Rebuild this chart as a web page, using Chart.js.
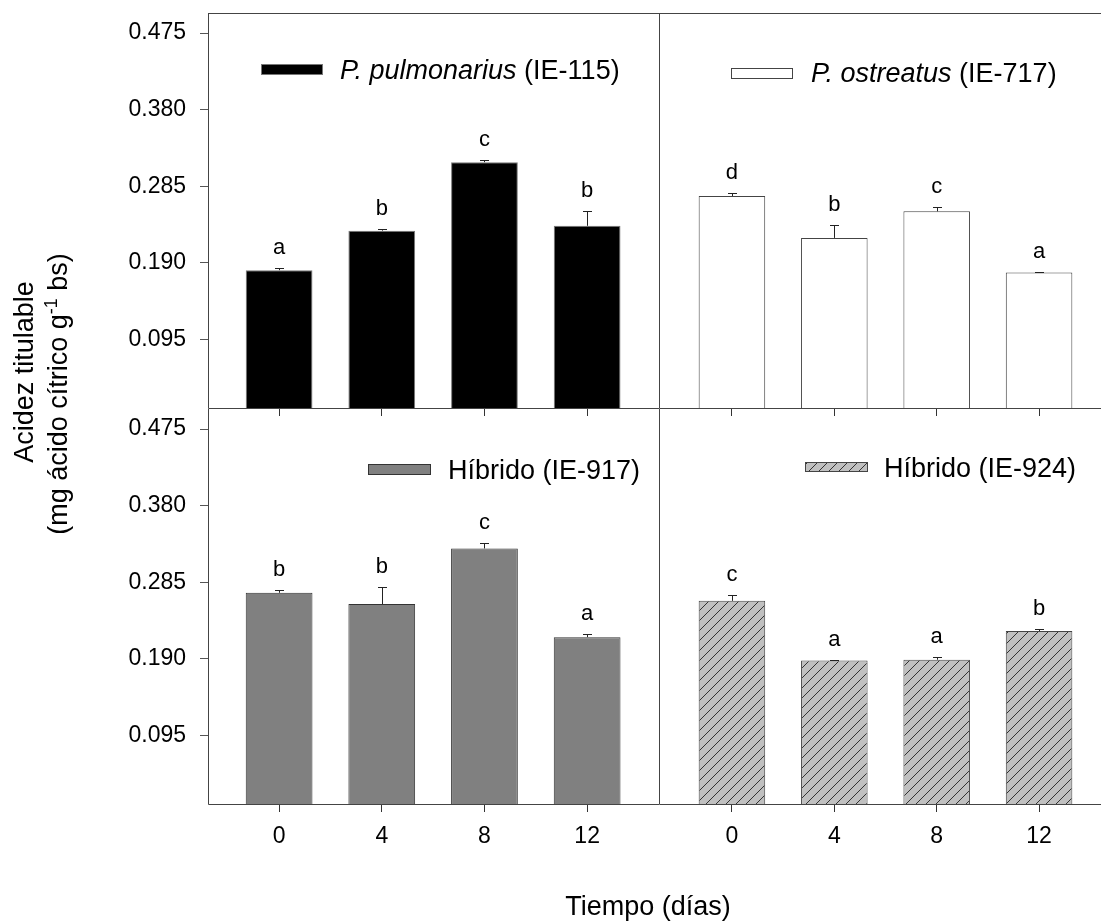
<!DOCTYPE html>
<html lang="es">
<head>
<meta charset="utf-8">
<title>Acidez titulable</title>
<script src="https://cdn.jsdelivr.net/npm/chart.js@4.4.1/dist/chart.umd.min.js"></script>
<style>
  html, body { margin: 0; padding: 0; background: #fff; }
  #figura { position: relative; width: 1101px; height: 924px; }
  #figura canvas { position: absolute; left: 0; top: 0; }
</style>
</head>
<body>
<div id="figura">
  <canvas id="pulmonarius" width="1101" height="924"></canvas>
  <canvas id="ostreatus" width="1101" height="924"></canvas>
  <canvas id="h917" width="1101" height="924"></canvas>
  <canvas id="h924" width="1101" height="924"></canvas>
</div>
<script>
// dias de almacenamiento y marcas del eje y
const dias = [0, 4, 8, 12];
const ticksY = [0.095, 0.190, 0.285, 0.380, 0.475];

// medias, error estandar y letras de Tukey por cepa
const pulmonariusMedia = [0.181, 0.230, 0.315, 0.236];
const pulmonariusError = [0.003, 0.0025, 0.003, 0.018];
const pulmonariusLetras = ['a', 'b', 'c', 'b'];

const ostreatusMedia = [0.273, 0.221, 0.254, 0.178];
const ostreatusError = [0.0033, 0.016, 0.005, 0.0012];
const ostreatusLetras = ['d', 'b', 'c', 'a'];

const h917Media = [0.272, 0.258, 0.327, 0.217];
const h917Error = [0.0033, 0.0216, 0.007, 0.0033];
const h917Letras = ['b', 'b', 'c', 'a'];

const h924Media = [0.262, 0.188, 0.189, 0.2245];
const h924Error = [0.007, 0.0012, 0.0037, 0.003];
const h924Letras = ['c', 'a', 'a', 'b'];

const FUENTE = '"Liberation Sans", Arial, sans-serif';
Chart.defaults.font.family = FUENTE;

// trama diagonal para el hibrido IE-924
function trama() {
    const c = document.createElement('canvas');
    c.width = 10; c.height = 10;
    const t = c.getContext('2d');
    t.fillStyle = '#c0c0c0';
    t.fillRect(0, 0, 10, 10);
    t.strokeStyle = '#333';
    t.lineWidth = 1;
    t.beginPath();
    t.moveTo(0, 10); t.lineTo(10, 0);
    t.moveTo(-1, 1); t.lineTo(1, -1);
    t.moveTo(9, 11); t.lineTo(11, 9);
    t.stroke();
    return document.createElement('canvas').getContext('2d').createPattern(c, 'repeat');
}

// sin margenes extra por las etiquetas: el area del grafico la fija layout.padding
function sinMargen(s) {
    s.paddingTop = 0; s.paddingBottom = 0;
    s.paddingLeft = 0; s.paddingRight = 0;
}

function panel(id, cfg) {
    // barras de error, letras, marco y leyenda del panel
    const extras = {
        id: 'extras',
        afterDatasetsDraw(chart) {
            const ctx = chart.ctx;
            const y = chart.scales.y;
            ctx.save();
            chart.getDatasetMeta(0).data.forEach((bar, i) => {
                const x = Math.round(bar.x) + 0.5;
                const base = y.getPixelForValue(cfg.media[i]);
                const tope = Math.round(y.getPixelForValue(cfg.media[i] + cfg.error[i])) + 0.5;
                ctx.strokeStyle = '#222';
                ctx.lineWidth = 1;
                ctx.beginPath();
                ctx.moveTo(x, base);
                ctx.lineTo(x, tope);
                ctx.moveTo(x - 4.5, tope);
                ctx.lineTo(x + 4.5, tope);
                ctx.stroke();
                ctx.fillStyle = '#000';
                ctx.font = '22px ' + FUENTE;
                ctx.textAlign = 'center';
                ctx.textBaseline = 'alphabetic';
                ctx.fillText(cfg.letras[i], bar.x, tope - 15);
            });
            ctx.restore();
        },
        afterDraw(chart) {
            const ctx = chart.ctx;
            const a = chart.chartArea;
            ctx.save();
            ctx.strokeStyle = '#444';
            ctx.lineWidth = 1;
            ctx.beginPath();
            const l = Math.floor(a.left) + 0.5, r = Math.floor(a.right) + 0.5;
            const t = Math.floor(a.top) + 0.5, b = Math.floor(a.bottom) + 0.5;
            if (cfg.bordes.includes('top')) { ctx.moveTo(l, t); ctx.lineTo(a.right, t); }
            if (cfg.bordes.includes('bottom')) { ctx.moveTo(l, b); ctx.lineTo(a.right, b); }
            if (cfg.bordes.includes('left')) { ctx.moveTo(l, a.top); ctx.lineTo(l, b); }
            if (cfg.bordes.includes('right')) { ctx.moveTo(r, a.top); ctx.lineTo(r, b); }
            ctx.stroke();

            // leyenda
            const L = cfg.leyenda;
            ctx.fillStyle = cfg.relleno;
            ctx.fillRect(L.x, L.y, L.w, L.h);
            ctx.strokeStyle = cfg.borde;
            ctx.strokeRect(L.x + 0.5, L.y + 0.5, L.w - 1, L.h - 1);
            ctx.fillStyle = '#000';
            ctx.textAlign = 'left';
            ctx.textBaseline = 'alphabetic';
            let tx = L.tx;
            if (L.cursiva) {
                ctx.font = 'italic 27px ' + FUENTE;
                ctx.fillText(L.cursiva, tx, L.base);
                tx += ctx.measureText(L.cursiva).width;
            }
            ctx.font = '27px ' + FUENTE;
            ctx.fillText(L.normal, tx, L.base);
            ctx.restore();
        }
    };

    return new Chart(document.getElementById(id), {
        type: 'bar',
        data: {
            datasets: [{
                data: dias.map((d, i) => ({ x: d, y: cfg.media[i] })),
                backgroundColor: cfg.relleno,
                borderColor: cfg.borde,
                borderWidth: 1,
                categoryPercentage: 1,
                barPercentage: 0.65
            }]
        },
        options: {
            responsive: false,
            animation: false,
            events: [],
            layout: { padding: cfg.padding },
            plugins: { legend: { display: false }, tooltip: { enabled: false } },
            scales: {
                x: {
                    type: 'linear',
                    offset: false,
                    min: cfg.xMin,
                    max: cfg.xMax,
                    afterBuildTicks: s => { s.ticks = dias.map(v => ({ value: v })); },
                    afterFit: s => { s.height = cfg.altoX; sinMargen(s); },
                    border: { display: false },
                    grid: { offset: false, drawOnChartArea: false, tickLength: 8, color: '#333' },
                    ticks: { display: cfg.etiquetasX, padding: 11, color: '#000', font: { size: 23 } }
                },
                y: {
                    display: cfg.ejeY,
                    min: 0.01,
                    max: 0.5,
                    afterBuildTicks: s => { s.ticks = ticksY.map(v => ({ value: v })); },
                    afterFit: s => { s.width = cfg.ejeY ? 100 : 0; sinMargen(s); },
                    border: { display: false },
                    grid: { drawOnChartArea: false, tickLength: 8, color: '#555' },
                    ticks: { padding: 14, color: '#000', font: { size: 23 }, callback: v => v.toFixed(3) }
                }
            }
        },
        plugins: cfg.extra ? [extras, cfg.extra] : [extras]
    });
}

// titulos de los ejes, comunes a los cuatro paneles
const titulos = {
    id: 'titulos',
    afterDraw(chart) {
        const ctx = chart.ctx;
        ctx.save();
        ctx.fillStyle = '#000';
        ctx.font = '27px ' + FUENTE;
        ctx.textAlign = 'center';
        ctx.textBaseline = 'alphabetic';
        ctx.fillText('Tiempo (días)', 648, 915);

        ctx.translate(33, 372);
        ctx.rotate(-Math.PI / 2);
        ctx.fillText('Acidez titulable', 0, 0);
        ctx.restore();

        // segunda linea con superindice
        ctx.save();
        ctx.fillStyle = '#000';
        ctx.translate(67, 394);
        ctx.rotate(-Math.PI / 2);
        const p1 = '(mg ácido cítrico g', sup = '-1', p2 = ' bs)';
        ctx.font = '27px ' + FUENTE;
        const w1 = ctx.measureText(p1).width, w3 = ctx.measureText(p2).width;
        ctx.font = '18px ' + FUENTE;
        const w2 = ctx.measureText(sup).width;
        let x = -(w1 + w2 + w3) / 2;
        ctx.textAlign = 'left';
        ctx.font = '27px ' + FUENTE;
        ctx.fillText(p1, x, 0);
        x += w1;
        ctx.font = '18px ' + FUENTE;
        ctx.fillText(sup, x, -10);
        x += w2;
        ctx.font = '27px ' + FUENTE;
        ctx.fillText(p2, x, 0);
        ctx.restore();
    }
};

panel('pulmonarius', {
    media: pulmonariusMedia, error: pulmonariusError, letras: pulmonariusLetras,
    relleno: '#000', borde: '#777',
    padding: { left: 108, right: 442, top: 13, bottom: 506 },
    xMin: -2.77, xMax: 14.8, altoX: 10, etiquetasX: false, ejeY: true,
    bordes: ['top', 'left', 'right', 'bottom'],
    leyenda: { x: 261, y: 64, w: 62, h: 11, tx: 340, base: 79, cursiva: 'P. pulmonarius', normal: ' (IE-115)' },
    extra: titulos
});

panel('ostreatus', {
    media: ostreatusMedia, error: ostreatusError, letras: ostreatusLetras,
    relleno: '#fff', borde: '#444',
    padding: { left: 659, right: 0, top: 13, bottom: 506 },
    xMin: -2.85, xMax: 14.42, altoX: 10, etiquetasX: false, ejeY: false,
    bordes: ['top', 'bottom'],
    leyenda: { x: 731, y: 68, w: 62, h: 11, tx: 811, base: 82, cursiva: 'P. ostreatus', normal: ' (IE-717)' }
});

panel('h917', {
    media: h917Media, error: h917Error, letras: h917Letras,
    relleno: '#808080', borde: '#333',
    padding: { left: 108, right: 442, top: 409, bottom: 60 },
    xMin: -2.77, xMax: 14.8, altoX: 60, etiquetasX: true, ejeY: true,
    bordes: ['left', 'right', 'bottom'],
    leyenda: { x: 368, y: 464, w: 63, h: 11, tx: 448, base: 479, normal: 'Híbrido (IE-917)' }
});

panel('h924', {
    media: h924Media, error: h924Error, letras: h924Letras,
    relleno: trama(), borde: '#444',
    padding: { left: 659, right: 0, top: 409, bottom: 60 },
    xMin: -2.85, xMax: 14.42, altoX: 60, etiquetasX: true, ejeY: false,
    bordes: ['bottom'],
    leyenda: { x: 805, y: 462, w: 63, h: 10, tx: 884, base: 477, normal: 'Híbrido (IE-924)' }
});
</script>
</body>
</html>
